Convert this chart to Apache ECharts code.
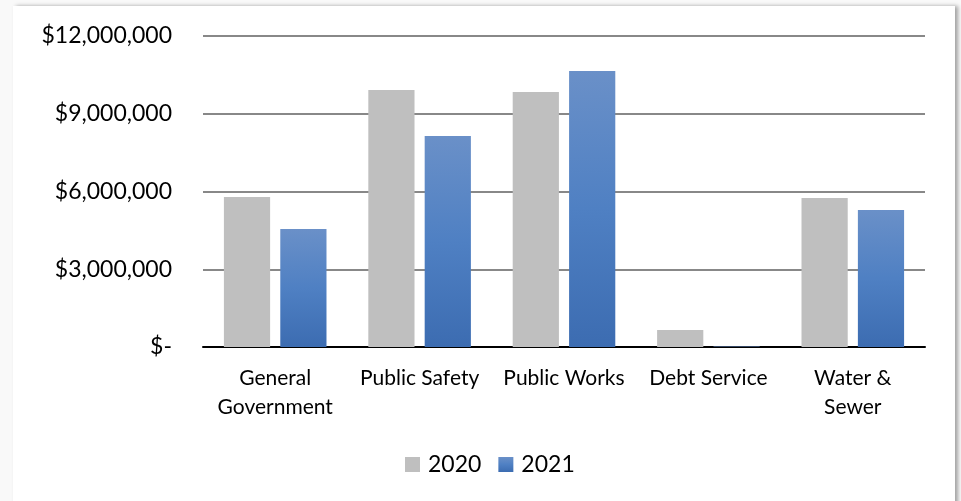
<!DOCTYPE html>
<html>
<head>
<meta charset="utf-8">
<script src="https://cdn.jsdelivr.net/npm/echarts@6/dist/echarts.min.js"></script>
<style>
html,body{margin:0;padding:0;background:#f9f9f9;width:961px;height:501px;overflow:hidden;}
#frame{position:absolute;left:13px;top:6px;width:942px;height:500px;background:#fff;box-shadow:3px 0 4px rgba(0,0,0,0.35);}
#chart{position:absolute;left:0;top:0;width:961px;height:501px;}
</style>
</head>
<body>
<div id="frame"></div>
<div id="chart"></div>
<script>
const categories = ['General Government', 'Public Safety', 'Public Works', 'Debt Service', 'Water & Sewer'];
const seriesNames = ['2020', '2021'];
const values2020 = [5790000, 9920000, 9840000, 660000, 5750000];
const values2021 = [4550000, 8140000, 10650000, 15000, 5290000];
const yTicks = { min: 0, max: 12000000, interval: 3000000 };
const labelLines = { 'General Government': 'General\nGovernment', 'Water & Sewer': 'Water &\nSewer' };

const chart = echarts.init(document.getElementById('chart'), null, { renderer: 'canvas' });
const font = 'Lato, "Open Sans", sans-serif';
const blue = new echarts.graphic.LinearGradient(0, 0, 0, 1, [
  { offset: 0, color: '#6a90c8' },
  { offset: 0.5, color: '#4f80c3' },
  { offset: 1, color: '#3c6cb1' }
]);
chart.setOption({
  backgroundColor: 'transparent',
  animation: false,
  grid: { left: 203, right: 36, top: 36, bottom: 154 },
  legend: {
    data: seriesNames,
    top: 448,
    left: 400,
    icon: 'rect',
    itemWidth: 15,
    itemHeight: 15,
    itemGap: 17,
    textStyle: { fontFamily: font, fontSize: 23, color: '#000', padding: [0, 0, 0, 3] }
  },
  xAxis: {
    type: 'category',
    data: categories,
    axisLine: { lineStyle: { color: '#000', width: 2 } },
    axisTick: { show: false },
    axisLabel: {
      interval: 0,
      margin: 17,
      fontFamily: font,
      fontSize: 21,
      lineHeight: 29,
      color: '#000',
      formatter: v => labelLines[v] || v
    }
  },
  yAxis: {
    type: 'value',
    min: yTicks.min,
    max: yTicks.max,
    interval: yTicks.interval,
    axisLine: { show: false },
    axisTick: { show: false },
    splitLine: { lineStyle: { color: '#888', width: 2 } },
    axisLabel: {
      margin: 31,
      fontFamily: font,
      fontSize: 23,
      color: '#000',
      formatter: v => v === 0 ? '$-' : '$' + v.toLocaleString('en-US')
    }
  },
  series: [
    {
      name: seriesNames[0], type: 'bar', data: values2020,
      barWidth: '32%', barGap: '22%',
      itemStyle: { color: '#bfbfbf' }
    },
    {
      name: seriesNames[1], type: 'bar', data: values2021,
      barWidth: '32%', barGap: '22%',
      itemStyle: { color: blue }
    }
  ]
});
</script>
</body>
</html>
